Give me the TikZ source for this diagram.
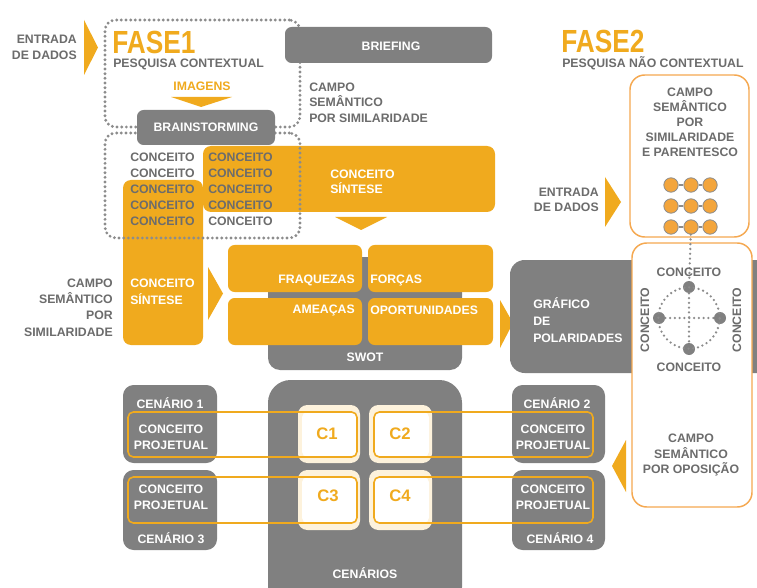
\documentclass[tikz,border=0pt]{standalone}
\usepackage{fontspec}
\setmainfont{Liberation Sans}
\newfontfamily\narrowfont[FakeStretch=0.82]{Liberation Sans}
\definecolor{org}{RGB}{240,170,30}
\definecolor{orgl}{RGB}{245,168,80}
\definecolor{bgray}{RGB}{128,128,128}
\definecolor{tgray}{RGB}{108,108,108}
\definecolor{dgray}{RGB}{140,140,140}
\definecolor{cream}{RGB}{253,242,220}
\definecolor{dotorg}{RGB}{243,165,60}
\newcommand\fs[1]{\bfseries\fontsize{9.2}{#1}\selectfont}
\tikzset{
  txt/.style={font=\fs{11.8}, inner sep=0pt, text=tgray},
  wtxt/.style={txt, text=white},
  otxt/.style={txt, text=org},
  gbox/.style={fill=bgray, rounded corners=5pt, inner sep=0pt},
  obox/.style={fill=org, rounded corners=6pt, inner sep=0pt},
  wbox/.style={fill=white, draw=orgl, line width=1.1pt, rounded corners=11pt, inner sep=0pt},
  loopd/.style={draw=dgray, line width=2.4pt, line cap=round, dash pattern=on 0pt off 3.5pt, rounded corners=8pt, inner sep=0pt},
  poldots/.style={draw=dgray, line width=1.9pt, line cap=round, dash pattern=on 0pt off 3.6pt},
  gdot/.style={circle, fill=dotorg, draw=dgray, line width=0.6pt, minimum size=10.8pt, inner sep=0pt},
  pdot/.style={circle, fill=bgray, minimum size=9pt, inner sep=0pt},
  oline/.style={draw=org, line width=1.2pt, rounded corners=4pt, inner sep=0pt},
  creambox/.style={fill=cream, rounded corners=7pt, inner sep=0pt},
  innerw/.style={fill=white, rounded corners=4pt, inner sep=0pt},
  ctxt/.style={font=\bfseries\fontsize{12.5}{14}\selectfont, text=org, inner sep=0pt},
  fase/.style={font=\narrowfont\bfseries\fontsize{24}{24}\selectfont, text=org, inner sep=0pt, anchor=base west},
}
\newcommand\bx[7]{\node[#2, minimum width={(#5-#3)*0.75pt}, minimum height={(#6-#4)*0.75pt}] (#1) at ({(#3+#5)/2},{(#4+#6)/2}) {#7};}
\begin{document}
\begin{tikzpicture}[x=0.75pt,y=-0.75pt]
\clip (0,0) rectangle (757,588);
\fill[white] (0,0) rectangle (757,588);

% ---------- FASE 1 header ----------
\node[txt, align=right, anchor=east, font=\fs{12.4}] (in1) at (77,47.5) {ENTRADA\\DE DADOS};
\fill[org] (84,20) -- (98,47.5) -- (84,75) -- cycle;
\bx{loopA}{loopd}{105}{20}{300}{127}{}
\node[fase] (f1) at (112,53.5) {FASE1};
\node[txt, anchor=base west] (f1s) at (113,67.5) {PESQUISA CONTEXTUAL};
\node[otxt] (img) at (202,86) {IMAGENS};
\fill[org] (171,97) -- (232,97) -- (201,107) -- cycle;

\bx{brief}{gbox}{285}{27}{492}{63}{}
\node[wtxt] (brieft) at (391,46) {BRIEFING};
\node[txt, align=left, anchor=west, font=\fs{11.6}] (csA) at (309,102.5) {CAMPO\\SEMÂNTICO\\POR SIMILARIDADE};

% ---------- concepts ----------
\bx{sint}{obox}{203}{146}{495}{212}{}
\bx{sintL}{obox}{123}{180}{203}{345}{}
\bx{loopB}{loopd}{105}{133}{300}{238}{}
\bx{brain}{gbox}{137}{110}{275}{145}{}
\node[wtxt] (braint) at (206,127.5) {BRAINSTORMING};
\foreach \r/\y in {1/157,2/173,3/189,4/205,5/221} {
  \node[txt, anchor=west] (ca\r) at (130,\y) {CONCEITO};
  \node[txt, anchor=west] (cb\r) at (208,\y) {CONCEITO};
}
\node[wtxt, align=left, anchor=west, font=\fs{10.9}] (sintt) at (330,182) {CONCEITO\\SÍNTESE};
\fill[org] (335,217) -- (387,217) -- (361,230) -- cycle;
\node[wtxt, align=left, anchor=west, font=\fs{12.6}] (sintLt) at (130,292) {CONCEITO\\SÍNTESE};
\node[txt, align=right, anchor=east, font=\fs{12.2}] (csB) at (113,307.5) {CAMPO\\SEMÂNTICO\\POR\\SIMILARIDADE};
\fill[org] (208,267) -- (223,293.5) -- (208,320) -- cycle;

% ---------- SWOT ----------
\bx{swot}{gbox, rounded corners=9pt}{268}{257}{462}{370}{}
\node[wtxt] (swott) at (365,357) {SWOT};
\bx{fraq}{obox, rounded corners=5pt}{228}{245}{362}{292}{}
\bx{forc}{obox, rounded corners=5pt}{368}{245}{493}{292}{}
\bx{amea}{obox, rounded corners=5pt}{228}{298}{362}{345}{}
\bx{opor}{obox, rounded corners=5pt}{368}{298}{493}{345}{}
\node[wtxt, anchor=east] (fraqt) at (355,280) {FRAQUEZAS};
\node[wtxt, anchor=west] (forct) at (370,280) {FORÇAS};
\node[wtxt, anchor=east] (ameat) at (355,310) {AMEAÇAS};
\node[wtxt, anchor=west] (oport) at (370,310) {OPORTUNIDADES};

% ---------- polarities ----------
\fill[org] (500,300) -- (513,323) -- (500,348) -- cycle;
\bx{pol}{gbox, rounded corners=11pt}{510}{260}{775}{373}{}
\node[wtxt, align=left, anchor=west, font=\fs{12.7}] (polt) at (533,320) {GRÁFICO\\DE\\POLARIDADES};

% ---------- FASE 2 ----------
\node[fase] (f2) at (561,53) {FASE2};
\node[txt, anchor=base west] (f2s) at (562,67.5) {PESQUISA NÃO CONTEXTUAL};
\bx{simbox}{wbox}{630}{75}{749}{237}{}
\node[txt, align=center, font=\fs{11.3}] (simt) at (690,122.5) {CAMPO\\SEMÂNTICO\\POR\\SIMILARIDADE\\E PARENTESCO};
\node[txt, align=right, anchor=east, font=\fs{11.5}] (in2) at (599,200) {ENTRADA\\DE DADOS};
\fill[org] (605,177) -- (621,202) -- (605,227) -- cycle;

\bx{opbox}{wbox}{632}{243}{752}{507}{}
\foreach \c/\x in {1/671,2/691,3/710} {
  \foreach \r/\y in {1/185,2/206,3/227} {
    \node[gdot] (g\r\c) at (\x,\y) {};
  }
}
\foreach \r in {1,2,3} {
  \draw[dgray, line width=0.9pt] (g\r1) -- (g\r2);
  \draw[dgray, line width=0.9pt] (g\r2) -- (g\r3);
}

\coordinate (pc) at (689,318);
\node[pdot] (pt) at (689,287) {};
\node[pdot] (pb) at (689,349) {};
\node[pdot] (pl) at (659,318) {};
\node[pdot] (pr) at (720,318) {};
\draw[poldots] (pc) circle[radius=23pt];
\draw[poldots] (g32) -- (pt);
\draw[poldots] (pt) -- (pb);
\draw[poldots] (pl) -- (pr);
\node[txt] (ptl) at (689,272) {CONCEITO};
\node[txt] (pbl) at (689,367) {CONCEITO};
\node[txt, rotate=90] (pll) at (645,320) {CONCEITO};
\node[txt, rotate=90] (prl) at (737,320) {CONCEITO};
\node[txt, align=center, font=\fs{11.4}] (opt) at (691,455) {CAMPO\\SEMÂNTICO\\POR OPOSIÇÃO};
\fill[org] (626,440) -- (612,466) -- (626,492) -- cycle;

% ---------- scenarios ----------
\bx{cen1}{gbox, rounded corners=8pt}{123}{385}{217}{463}{}
\bx{cen3}{gbox, rounded corners=8pt}{123}{470}{217}{550}{}
\bx{cen2}{gbox, rounded corners=8pt}{512}{385}{605}{463}{}
\bx{cen4}{gbox, rounded corners=8pt}{512}{470}{605}{550}{}
\bx{cens}{gbox, rounded corners=17pt}{268}{380}{462}{610}{}
\node[wtxt] (censt) at (365,573) {CENÁRIOS};

\bx{k1}{creambox}{298}{405}{360}{463}{}
\bx{k2}{creambox}{369}{405}{432}{463}{}
\bx{k3}{creambox}{298}{470}{360}{530}{}
\bx{k4}{creambox}{369}{470}{432}{530}{}
\bx{k1i}{innerw}{302}{412}{357}{457}{}
\bx{k2i}{innerw}{374}{412}{429}{457}{}
\bx{k3i}{innerw}{302}{477}{357}{523}{}
\bx{k4i}{innerw}{374}{477}{429}{523}{}
\bx{l1}{oline}{128}{412}{357}{457}{}
\bx{l2}{oline}{374}{412}{593}{457}{}
\bx{l3}{oline}{128}{477}{357}{523}{}
\bx{l4}{oline}{374}{477}{593}{523}{}
\node[ctxt] (c1) at (327,434) {C1};
\node[ctxt] (c2) at (400,434) {C2};
\node[ctxt] (c3) at (328,496) {C3};
\node[ctxt] (c4) at (400,496) {C4};

\node[wtxt] (cen1t) at (170,403) {CENÁRIO 1};
\node[wtxt, align=center, font=\fs{12}] (cp1) at (171,437) {CONCEITO\\PROJETUAL};
\node[wtxt, align=center, font=\fs{12}] (cp3) at (171,497) {CONCEITO\\PROJETUAL};
\node[wtxt] (cen3t) at (171,538) {CENÁRIO 3};
\node[wtxt] (cen2t) at (557,403) {CENÁRIO 2};
\node[wtxt, align=center, font=\fs{12}] (cp2) at (553,437) {CONCEITO\\PROJETUAL};
\node[wtxt, align=center, font=\fs{12}] (cp4) at (553,497) {CONCEITO\\PROJETUAL};
\node[wtxt] (cen4t) at (560,538) {CENÁRIO 4};
\end{tikzpicture}
\end{document}
